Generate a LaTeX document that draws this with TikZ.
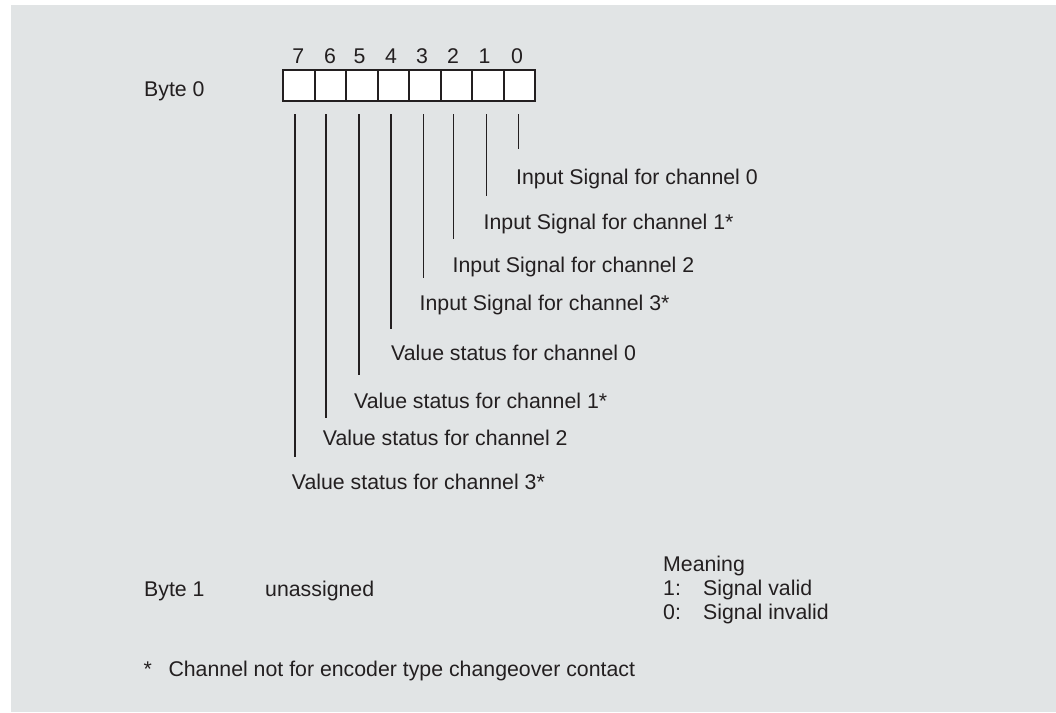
\documentclass[tikz,border=0pt]{standalone}
\usepackage{fontspec}
\setmainfont{Liberation Sans}
\definecolor{bg}{HTML}{E1E4E5}
\definecolor{ink}{HTML}{231F20}
\begin{document}
\begin{tikzpicture}[x=1pt,y=-1pt,
  txt/.style={inner sep=0pt, anchor=base west, text=ink, font=\fontsize{21.3}{25}\selectfont},
  digit/.style={inner sep=0pt, anchor=base, text=ink, font=\fontsize{21.3}{25}\selectfont},
  cell/.style={draw=ink, fill=white, line width=2pt, minimum width=31.5pt, minimum height=31pt, inner sep=0pt, anchor=north west},
  lead/.style={draw=ink, line width=1.3pt}]
\useasboundingbox (0,0) rectangle (1056,712);
\fill[bg] (11,5) rectangle (1056,712);
% byte 0 cells
\foreach \b [evaluate=\b as \xx using {282+(7-\b)*31.5}] in {7,...,0}
  \node[cell] (c\b) at (\xx,69) {};
\node[txt] (byte0) at (144,96) {Byte 0};
% digits
\node[digit] (d7) at (298.3,63.3) {7};
\node[digit] (d6) at (330,63.3) {6};
\node[digit] (d5) at (359.5,63.3) {5};
\node[digit] (d4) at (391,63.3) {4};
\node[digit] (d3) at (422,63.3) {3};
\node[digit] (d2) at (453,63.3) {2};
\node[digit] (d1) at (484.5,63.3) {1};
\node[digit] (d0) at (517,63.3) {0};
% labels
\node[txt] (l0) at (516,184) {Input Signal for channel 0};
\node[txt] (l1) at (483.5,229) {Input Signal for channel 1*};
\node[txt] (l2) at (452.5,272.3) {Input Signal for channel 2};
\node[txt] (l3) at (419.5,310.7) {Input Signal for channel 3*};
\node[txt] (l4) at (391,360.7) {Value status for channel 0};
\node[txt] (l5) at (354,408.3) {Value status for channel 1*};
\node[txt] (l6) at (322.7,445) {Value status for channel 2};
\node[txt] (l7) at (291.7,489.3) {Value status for channel 3*};
% leader lines
\coordinate (t0) at (518.7,114); \coordinate (e0) at (518.7,149.3);
\coordinate (t1) at (486.7,114); \coordinate (e1) at (486.7,196);
\coordinate (t2) at (453.3,114); \coordinate (e2) at (453.3,239.3);
\coordinate (t3) at (423.3,114); \coordinate (e3) at (423.3,278.3);
\coordinate (t4) at (391,114);   \coordinate (e4) at (391,329);
\coordinate (t5) at (359,114);   \coordinate (e5) at (359,375);
\coordinate (t6) at (326,114);   \coordinate (e6) at (326,418.3);
\coordinate (t7) at (295,114);   \coordinate (e7) at (295,456.7);
\foreach \i in {0,...,7} \draw[lead] (t\i) -- (e\i);
% byte 1
\node[txt] (byte1) at (144,596.7) {Byte 1};
\node[txt] (unas) at (265,596.7) {unassigned};
% meaning
\node[txt] (mean) at (663,571) {Meaning};
\node[txt] (m1) at (663,595) {1:};
\node[txt] (m1t) at (703,595) {Signal valid};
\node[txt] (m0) at (663,619.3) {0:};
\node[txt] (m0t) at (703,619.3) {Signal invalid};
% footnote
\node[txt] (star) at (143.3,676) {*};
\node[txt] (foot) at (168.3,676) {Channel not for encoder type changeover contact};
\end{tikzpicture}
\end{document}
